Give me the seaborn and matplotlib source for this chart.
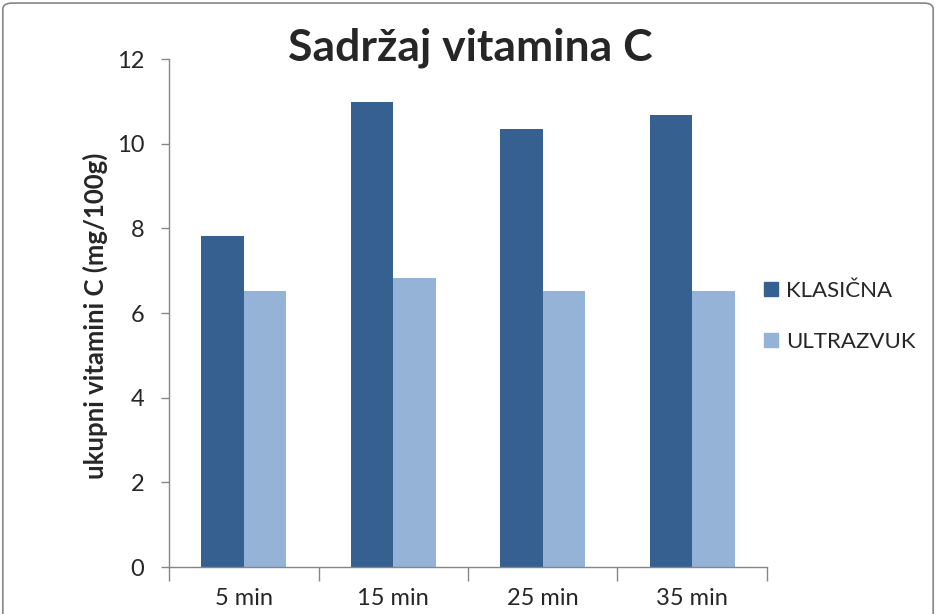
import matplotlib
matplotlib.use("Agg")
import matplotlib.pyplot as plt
import seaborn as sns
import pandas as pd
from matplotlib.patches import FancyBboxPatch
from matplotlib.lines import Line2D

categories = ["5 min", "15 min", "25 min", "35 min"]
klasicna = [7.82, 10.98, 10.35, 10.68]
ultrazvuk = [6.52, 6.83, 6.52, 6.52]
series_names = ["KLASIČNA", "ULTRAZVUK"]
colors = ["#36608F", "#95B3D7"]
yticks = [0, 2, 4, 6, 8, 10, 12]

df = pd.DataFrame({
    "vrijeme": categories * 2,
    "vrijednost": klasicna + ultrazvuk,
    "metoda": [series_names[0]] * 4 + [series_names[1]] * 4,
})

sns.set_theme(style="white")
plt.rcParams["font.family"] = ["Lato", "DejaVu Sans"]

fig = plt.figure(figsize=(9.36, 6.14), dpi=100)
ax = fig.add_axes([0.1806, 0.0765, 0.8194 - 0.1806, 0.9039 - 0.0765])

sns.barplot(data=df, x="vrijeme", y="vrijednost", hue="metoda",
            palette=colors, width=0.571, ax=ax, legend=False,
            saturation=1, edgecolor="none")

ax.set_xlim(-0.5, 3.5)
ax.set_ylim(0, 12)
ax.set_yticks(yticks)
ax.set_yticklabels([str(v) for v in yticks], fontsize=17)
ax.set_xlabel("")
ax.set_ylabel("ukupni vitamini C (mg/100g)", fontsize=18.5, fontweight="bold")
ax.yaxis.set_label_coords(-0.102, 0.494)

for s in ["top", "right"]:
    ax.spines[s].set_visible(False)
for s in ["left", "bottom"]:
    ax.spines[s].set_color("#868686")
    ax.spines[s].set_linewidth(1)

ax.tick_params(axis="y", which="major", direction="out", length=6, width=1,
               color="#868686", left=True, pad=12)
ax.set_xticks(range(len(categories)))
ax.set_xticklabels(categories, fontsize=17)
ax.tick_params(axis="x", which="major", length=0, pad=15)
ax.set_xticks([-0.5, 0.5, 1.5, 2.5, 3.5], minor=True)
ax.tick_params(axis="x", which="minor", direction="out", length=10, width=1,
               color="#868686", bottom=True)

fig.text(0.502, 0.923, "Sadržaj vitamina C", ha="center", va="center",
         fontsize=32, fontweight="bold")

handles = [Line2D([0], [0], marker="s", linestyle="none", markersize=10,
                  markerfacecolor=c, markeredgecolor=c) for c in colors]
fig.legend(handles, series_names, loc="center left",
           bbox_to_anchor=(0.790, 0.4845), frameon=False, fontsize=16,
           handletextpad=0.2, labelspacing=1.4, handlelength=1.0)

border = FancyBboxPatch((0.003, -0.02), 0.994, 1.015,
                        boxstyle="round,pad=0,rounding_size=0.01",
                        transform=fig.transFigure, fill=False,
                        edgecolor="#868686", linewidth=1.2)
fig.patches.append(border)

fig.savefig("out.png", dpi=100)
